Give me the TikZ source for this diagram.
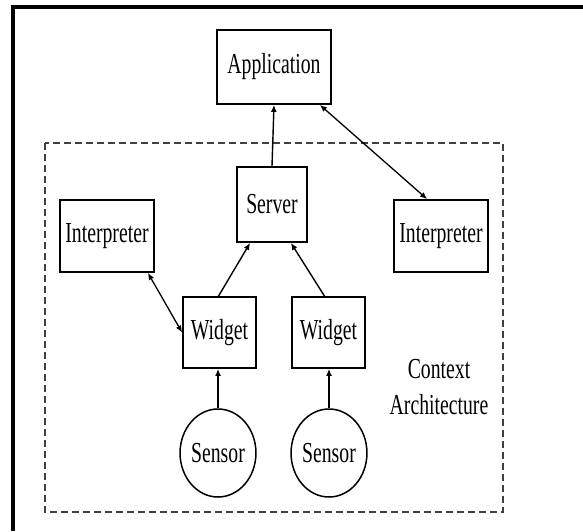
\documentclass[tikz,border=0pt]{standalone}
\usepackage{fontspec}
\usepackage{graphicx}
\setmainfont{Liberation Serif}
\usetikzlibrary{arrows.meta,shapes.geometric}
% narrow, tall lettering
\newcommand{\narrowtxt}[1]{\scalebox{0.68}[1]{#1}}
\tikzset{
  block/.style={draw=black, line width=1.8pt, rectangle, inner sep=0pt, fill=white},
  sensorshape/.style={draw=black, line width=1.5pt, ellipse, inner sep=0pt,
    minimum width=65pt, minimum height=88pt},
  lbl/.style={font=\fontsize{29}{36}\selectfont},
  link/.style={line width=1.4pt, -{Latex[length=7pt,width=6pt]}},
  dlink/.style={line width=1.3pt, {Latex[length=7pt,width=6pt]}-{Latex[length=7pt,width=6pt]}},
  region/.style={draw=black!75, line width=2pt, dash pattern=on 7pt off 4pt},
  frameline/.style={line width=3.2pt, draw=black}
}
\begin{document}
\begin{tikzpicture}[x=1pt,y=-1pt]
  \useasboundingbox (0,0) rectangle (583,531);
  \fill[white] (0,0) rectangle (583,531);
  % outer frame (left and top edges)
  \draw[frameline] (13,531) -- (13,7) -- (583,7);
  % context architecture region
  \draw[region] (45,143) rectangle (503,512);

  \node[block, minimum width=114pt, minimum height=74pt, lbl] (app) at (274,67) {\narrowtxt{Application}};
  \node[block, minimum width=70pt, minimum height=75pt, lbl] (srv) at (272,204.5) {\narrowtxt{Server}};
  \node[block, minimum width=94pt, minimum height=72pt, lbl] (li) at (107,236) {\narrowtxt{Interpreter}};
  \node[block, minimum width=94pt, minimum height=72pt, lbl] (ri) at (441,236) {\narrowtxt{Interpreter}};
  \node[block, minimum width=73pt, minimum height=71pt, lbl] (wa) at (219.5,332.5) {\narrowtxt{Widget}};
  \node[block, minimum width=73pt, minimum height=71pt, lbl] (wb) at (328.5,332.5) {\narrowtxt{Widget}};
  \node[sensorshape, lbl] (sa) at (218,453) {\narrowtxt{Sensor}};
  \node[sensorshape, lbl] (sb) at (329,453) {\narrowtxt{Sensor}};
  \node[lbl, align=center] (ctx) at (439,387) {\narrowtxt{Context}\\\narrowtxt{Architecture}};

  \draw[link] (srv.north) -- (app.south);
  \draw[dlink] ([xshift=-12pt]app.south east) -- ([xshift=34pt]ri.north west);
  \draw[link] ([xshift=-1pt]wa.north) -- ([xshift=14pt]srv.south west);
  \draw[link] ([xshift=-4pt]wb.north) -- ([xshift=-17pt]srv.south east);
  \draw[dlink] ([xshift=-7pt]li.south east) -- (wa.west);
  \draw[link] (sa.north) -- (wa.south -| sa.north);
  \draw[link] (sb.north) -- (wb.south -| sb.north);
\end{tikzpicture}
\end{document}
